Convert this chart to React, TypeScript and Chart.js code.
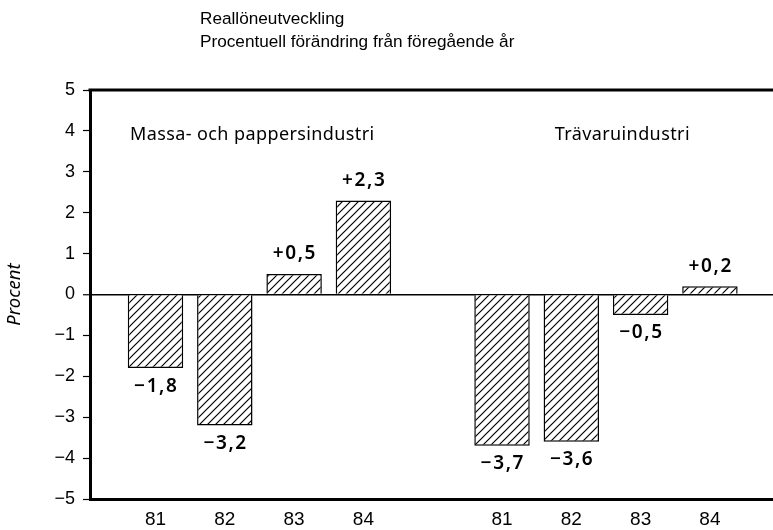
import React, { useEffect, useRef } from "react";
import { Chart, registerables } from "chart.js";

Chart.register(...registerables);

const titleLines = ["Reallöneutveckling", "Procentuell förändring från föregående år"];
const groupNames = ["Massa- och pappersindustri", "Trävaruindustri"];
const years = ["81", "82", "83", "84"];
const massaValues = [-1.8, -3.2, 0.5, 2.3];
const travaruValues = [-3.7, -3.6, -0.5, 0.2];
const yTitle = "Procent";
const yMin = -5;
const yMax = 5;

const xLabels = [...years, "", ...years];
const slotValues: (number | null)[] = [...massaValues, null, ...travaruValues];

const FONT = "'Liberation Sans', Arial, Helvetica, sans-serif";
const FONT2 = "'Noto Sans', 'Liberation Sans', Arial, sans-serif";

function fmtValue(v: number): string {
  const s = Math.abs(v).toFixed(1).replace(".", ",");
  return (v > 0 ? "+" : v < 0 ? "\u2212" : "") + s;
}

function makeHatch(): CanvasPattern | string {
  const c = document.createElement("canvas");
  const n = 8;
  c.width = n;
  c.height = n;
  const g = c.getContext("2d");
  if (!g) return "#fff";
  g.fillStyle = "#fff";
  g.fillRect(0, 0, n, n);
  g.strokeStyle = "#000";
  g.lineWidth = 1.2;
  g.beginPath();
  g.moveTo(-1, n + 1);
  g.lineTo(n + 1, -1);
  g.moveTo(-1, 1);
  g.lineTo(1, -1);
  g.moveTo(n - 1, n + 1);
  g.lineTo(n + 1, n - 1);
  g.stroke();
  const p = g.createPattern(c, "repeat");
  return p || "#fff";
}

const overlayPlugin = {
  id: "overlay",
  afterDraw(chart: any) {
    const ctx = chart.ctx as any;
    const area = chart.chartArea;
    const x = chart.scales.x;
    const y = chart.scales.y;
    ctx.save();
    ctx.strokeStyle = "#000";
    ctx.lineWidth = 3;
    ctx.beginPath();
    ctx.moveTo(area.left - 1.5, area.top);
    ctx.lineTo(area.right, area.top);
    ctx.stroke();

    ctx.fillStyle = "#000";
    ctx.textBaseline = "middle";
    ctx.textAlign = "left";
    ctx.font = `17.2px ${FONT}`;
    ctx.fillText(titleLines[0], 200, 19);
    ctx.fillText(titleLines[1], 200, 42);

    ctx.font = `18px ${FONT2}`;
    ctx.letterSpacing = "0.4px";
    const gy = y.getPixelForValue(3.9);
    ctx.fillText(groupNames[0], area.left + 40, gy);
    ctx.fillText(groupNames[1], x.getPixelForValue(6.76), gy);

    ctx.textAlign = "center";
    ctx.font = `600 19px ${FONT2}`;
    const ls = 1.6;
    ctx.letterSpacing = `${ls}px`;
    const meta = chart.getDatasetMeta(0);
    const ds = chart.data.datasets[0].data as { x: number; y: number }[];
    meta.data.forEach((el: any, i: number) => {
      const v = ds[i].y;
      const ty = v >= 0 ? el.y - 20 : el.y + 18;
      ctx.fillText(fmtValue(v), el.x + ls / 2, ty);
    });
    ctx.letterSpacing = "0px";
    ctx.restore();
  },
};

export default function App() {
  const ref = useRef<HTMLCanvasElement | null>(null);
  useEffect(() => {
    if (!ref.current) return;
    const hatch = makeHatch();
    const points = slotValues
      .map((v, i) => (v === null ? null : { x: i + 1, y: v }))
      .filter((p) => p !== null) as { x: number; y: number }[];
    const chart = new Chart(ref.current, {
      type: "bar",
      data: {
        datasets: [
          {
            data: points as any,
            backgroundColor: hatch as any,
            borderColor: "#000",
            borderWidth: 1.5,
            barPercentage: 0.8,
            categoryPercentage: 1,
          },
        ],
      },
      options: {
        responsive: false,
        animation: false,
        layout: { padding: { top: 90, left: 0, right: 0, bottom: 0 } },
        plugins: {
          legend: { display: false },
          tooltip: { enabled: false },
          title: { display: false },
        },
        scales: {
          x: {
            type: "linear",
            offset: false,
            bounds: "data",
            min: 0.055,
            max: 9.91,
            afterBuildTicks: (s: any) => {
              s.ticks = xLabels.map((_, i) => ({ value: i + 1 }));
            },
            afterFit: (s: any) => {
              s.height = 31;
            },
            grid: { display: false, drawTicks: false, offset: false },
            border: { display: true, width: 3, color: "#000" },
            ticks: {
              autoSkip: false,
              maxRotation: 0,
              padding: 9,
              color: "#000",
              font: { family: FONT, size: 19 },
              callback: (v: any) => xLabels[Number(v) - 1] ?? "",
            },
          },
          y: {
            min: yMin,
            max: yMax,
            afterFit: (s: any) => {
              s.width = 90;
            },
            grid: {
              drawOnChartArea: true,
              color: (c: any) => (c.tick && c.tick.value === 0 ? "#000" : "rgba(0,0,0,0)"),
              lineWidth: (c: any) => (c.tick && c.tick.value === 0 ? 1.5 : 1),
              tickColor: "#000",
              tickLength: 7,
              tickWidth: 1.2,
            },
            border: { display: true, width: 3, color: "#000" },
            ticks: {
              stepSize: 1,
              padding: 8,
              color: "#000",
              font: { family: FONT, size: 18 },
              callback: (v: any) => (Number(v) < 0 ? "\u2212" + Math.abs(Number(v)) : String(v)),
            },
            title: {
              display: true,
              text: yTitle,
              color: "#000",
              font: { family: FONT2, size: 18.5, style: "italic" },
              padding: { top: 4, bottom: 0 },
            },
          },
        },
      },
      plugins: [overlayPlugin],
    });
    return () => chart.destroy();
  }, []);
  return (
    <div style={{ position: "fixed", left: 0, top: 0, width: 773, height: 530, background: "#fff" }}>
      <canvas ref={ref} width={773} height={530} style={{ display: "block" }} />
    </div>
  );
}
